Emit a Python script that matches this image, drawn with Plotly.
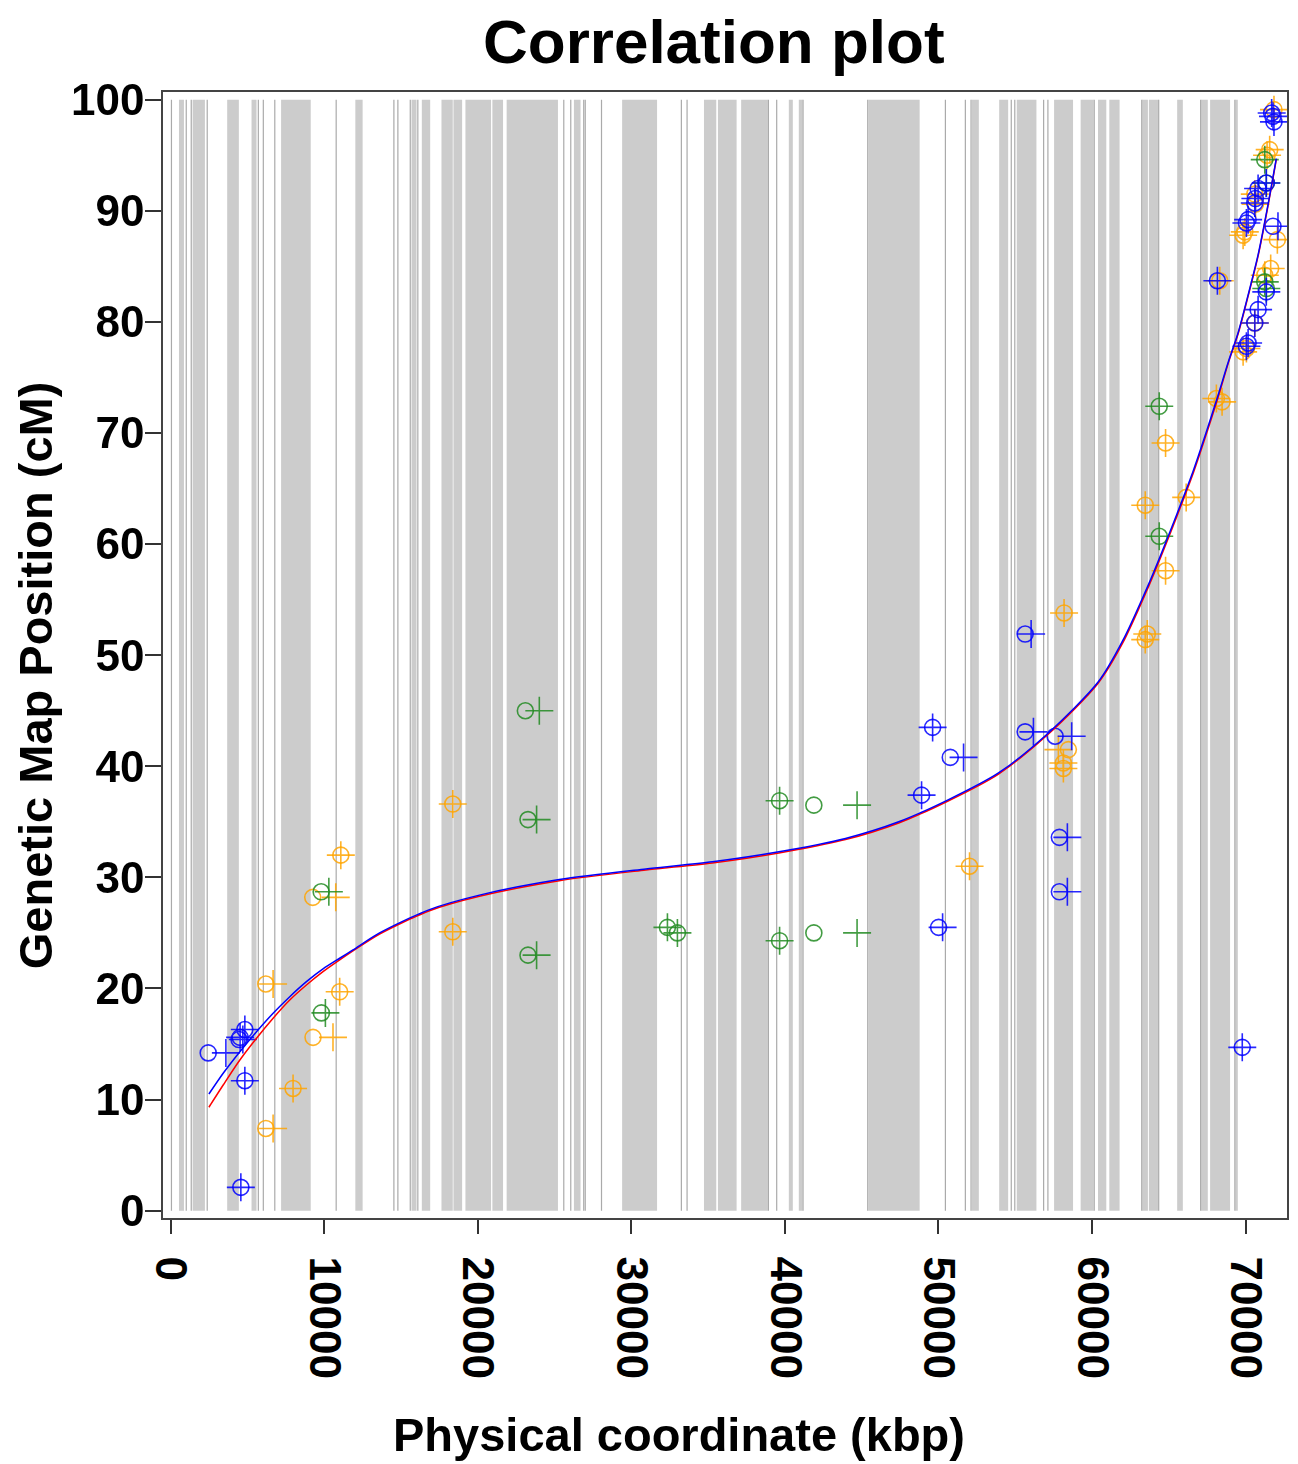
import plotly.graph_objects as go

# ---------------- data ----------------
# gray bands (kbp start, kbp end)
band_start = [540, 1430, 3680, 5265, 7190, 12025, 15685, 16355, 17635, 18415, 19195, 20950,
              21880, 26260, 29400, 34730, 35640, 37150, 40255, 40905, 45440, 52170, 53955,
              55100, 57530, 59260, 60390, 61125, 63270, 63705, 65545, 67105, 67690, 69335]
band_end = [865, 2230, 4440, 5590, 9120, 12500, 16010, 16900, 18370, 18980, 20865, 21645,
            25220, 26690, 31675, 35530, 36855, 38890, 40515, 41150, 48775, 52630, 54540,
            56380, 58765, 60105, 60930, 61795, 63640, 64330, 65915, 67540, 68990, 69495]
# thin lines (kbp)
thin_lines = [50, 1014, 1339, 2379, 5708, 6033, 6780, 10778, 14536, 14796, 15602, 16096,
              25600, 26055, 26900, 26998, 28057, 33258, 33629, 38926, 39466, 41182, 45394,
              50452, 51752, 52122, 54742, 54970, 56849, 57128, 60144, 63238, 64343, 67074, 69304]

# markers: genetic position (cM), circle coordinate (kbp), cross coordinate (kbp)
orange_cm = [20.4, 7.4, 11.0, 15.6, 19.7, 28.2, 32.0, 36.6, 25.1, 31.0, 53.8, 41.5, 40.3, 39.8,
             51.4, 51.9, 63.5, 57.6, 64.2, 69.1, 73.1, 72.8, 83.7, 87.8, 88.1, 77.3, 77.6, 79.9,
             84.2, 84.8, 87.4, 90.6, 91.5, 95.5, 95.0, 99.1]
orange_circle = [6195, 6195, 7970, 9270, 11006, 9250, 11080, 18370, 18370, 52025, 58180, 58460,
                 58135, 58135, 63467, 63600, 63467, 64790, 66133, 64790, 68100, 68470, 68320,
                 69840, 69950, 69840, 70055, 70600, 71250, 71635, 72070, 70650, 70600, 71570,
                 71400, 71850]
orange_cross = [6670, 6670, 7970, 10570, 11006, 10750, 11080, 18370, 18370, 52025, 58180, 57810,
                58135, 58135, 63467, 63600, 63467, 64790, 66133, 64790, 68100, 68470, 68320,
                69840, 69950, 69840, 70055, 70600, 71250, 71635, 72070, 70650, 70600, 71570,
                71400, 71850]

green_cm = [17.8, 28.7, 45.0, 35.2, 23.0, 25.5, 25.0, 36.9, 36.5, 24.3, 25.0, 72.4, 60.7,
            94.6, 92.5, 83.6, 83.0]
green_circle = [9815, 9800, 23097, 23270, 23270, 32350, 33000, 39655, 41885, 39655, 41885,
                64378, 64378, 71250, 71350, 71250, 71350]
green_cross = [10075, 10300, 24007, 23830, 23830, 32350, 33000, 39655, 44700, 39655, 44700,
               64378, 64378, 71250, 71350, 71250, 71350]

blue_cm = [14.2, 15.6, 15.4, 16.3, 11.7, 2.1, 51.9, 43.1, 42.7, 33.6, 28.7, 40.8, 37.4, 43.5,
           25.5, 14.7, 83.7, 89.2, 88.9, 91.1, 92.0, 92.5, 98.5, 98.0, 98.8, 88.6, 82.7, 81.1,
           79.9, 78.1, 77.8, 90.7]
blue_circle = [2444, 4520, 4450, 4830, 4830, 4570, 55645, 55645, 57595, 57875, 57875, 50770,
               48900, 49620, 50010, 69785, 68165, 70165, 70055, 70640, 70815, 71350, 71785,
               71850, 71700, 71785, 71350, 70815, 70600, 70165, 70055, 70600]
blue_cross = [3595, 4520, 4700, 4830, 4830, 4570, 56035, 56185, 58675, 58395, 58395, 51635,
              48900, 49620, 50270, 69785, 68165, 70165, 70055, 70640, 70815, 71350, 71785,
              71850, 71700, 72110, 71350, 70815, 70600, 70165, 70055, 70600]

# fitted curves
curve_kbp = [2490, 3420, 4505, 5590, 6670, 7755, 8841, 9920, 11006, 11870, 13606, 16856,
             20106, 25306, 30944, 35273, 39609, 43944, 47410, 50660, 53910, 57160, 60410,
             62000, 63660, 64500, 65500, 66595, 67400, 68210, 68900, 69510, 70200, 70810, 71400, 72000]
blue_fit = [10.50, 12.37, 14.31, 16.11, 17.77, 19.26, 20.61, 21.76, 22.72, 23.47, 25.0, 27.1,
            28.4, 29.8, 30.76, 31.4, 32.3, 33.5, 35.0, 37.0, 39.4, 43.0, 47.6,
            51.3, 56.3, 59.1, 62.6, 66.6, 69.9, 73.4, 76.5, 79.0, 82.6, 86.0, 90.1, 94.7]
red_fit = [9.31, 11.31, 13.56, 15.52, 17.32, 18.96, 20.31, 21.51, 22.57, 23.38, 24.9, 27.0,
           28.3, 29.7, 30.66, 31.3, 32.2, 33.4, 34.9, 36.9, 39.3, 42.9, 47.5,
           51.1, 56.1, 58.9, 62.4, 66.4, 69.7, 73.2, 76.4, 78.9, 82.5, 85.9, 90.0, 94.6]

x_ticks = [0, 10000, 20000, 30000, 40000, 50000, 60000, 70000]
y_ticks = [0, 10, 20, 30, 40, 50, 60, 70, 80, 90, 100]

# ---------------- figure ----------------
FONT = "Liberation Sans, Arial, sans-serif"
OFF = 8  # page body margin
fig = go.Figure()

shapes = []
for s, e in zip(band_start, band_end):
    shapes.append(dict(type="rect", xref="x", yref="y", x0=s, x1=e, y0=0, y1=100,
                       fillcolor="#cccccc", line=dict(width=0), layer="below"))
for t in thin_lines:
    shapes.append(dict(type="line", xref="x", yref="y", x0=t, x1=t, y0=0, y1=100,
                       line=dict(color="#aaaaaa", width=1.2), layer="below"))

colors = {"orange": "#FFA500", "green": "#228B22", "blue": "#0000FF"}
groups = [("orange", orange_cm, orange_circle, orange_cross),
          ("green", green_cm, green_circle, green_cross),
          ("blue", blue_cm, blue_circle, blue_cross)]
for name, cm, xc, xx in groups:
    c = colors[name]
    fig.add_trace(go.Scatter(x=xc, y=cm, mode="markers", name=name + " circle",
                             marker=dict(symbol="circle-open", size=16, color=c,
                                         line=dict(color=c, width=1.6)),
                             opacity=0.85, showlegend=False))
    fig.add_trace(go.Scatter(x=xx, y=cm, mode="markers", name=name + " cross",
                             marker=dict(symbol="cross-thin-open", size=20, color=c,
                                         line=dict(color=c, width=1.6)),
                             opacity=0.85, showlegend=False))

fig.add_trace(go.Scatter(x=curve_kbp, y=red_fit, mode="lines",
                         line=dict(color="#FF0000", width=1.5, shape="spline", smoothing=0.8),
                         showlegend=False))
fig.add_trace(go.Scatter(x=curve_kbp, y=blue_fit, mode="lines",
                         line=dict(color="#0000FF", width=1.5, shape="spline", smoothing=0.8),
                         showlegend=False))

W, H = 1298 - OFF, 1464 - OFF
L, R, T, B = 163 - OFF, 9, 92 - OFF, 246
pw, ph = W - L - R, H - T - B

annotations = [
    dict(text="<b>Correlation plot</b>", x=715, y=41, size=62, angle=0),
    dict(text="<b>Physical coordinate (kbp)</b>", x=680, y=1434, size=47, angle=0),
    dict(text="<b>Genetic Map Position (cM)</b>", x=35, y=675, size=47, angle=-90),
]
ann = []
for a in annotations:
    ann.append(dict(text=a["text"], x=(a["x"] - OFF - L) / pw, y=1 - (a["y"] - OFF - T) / ph,
                    xref="paper", yref="paper", xanchor="center", yanchor="middle",
                    showarrow=False, textangle=a["angle"],
                    font=dict(size=a["size"], family=FONT, color="black")))

fig.update_layout(
    width=W, height=H,
    margin=dict(l=L, r=R, t=T, b=B, pad=0),
    plot_bgcolor="white", paper_bgcolor="white",
    shapes=shapes, annotations=ann,
    font=dict(family=FONT, color="black"),
)
fig.update_xaxes(range=[-500, 72698], tickvals=x_ticks, ticktext=[f"<b>{v}</b>" for v in x_ticks],
                 tickangle=90, tickfont=dict(size=44, family=FONT, color="black"),
                 ticks="outside", ticklen=14, tickwidth=1.5, tickcolor="#333",
                 ticklabelstandoff=14,
                 showline=True, linecolor="#444", linewidth=1.5, mirror=True,
                 showgrid=False, zeroline=False)
fig.update_yaxes(range=[-0.66, 100.69], tickvals=y_ticks, ticktext=[f"<b>{v}</b>" for v in y_ticks],
                 tickfont=dict(size=44, family=FONT, color="black"),
                 ticks="outside", ticklen=16, tickwidth=1.5, tickcolor="#333",
                 ticklabelstandoff=-8,
                 showline=True, linecolor="#444", linewidth=1.5, mirror=True,
                 showgrid=False, zeroline=False)

fig.write_html("out.html")
